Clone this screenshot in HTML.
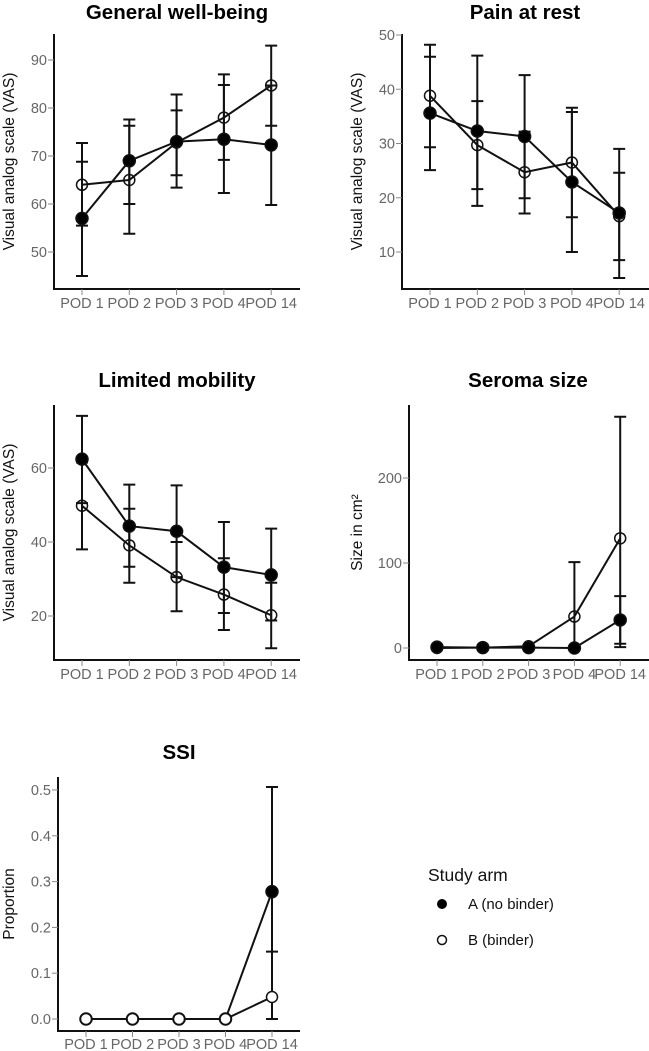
<!DOCTYPE html>
<html><head><meta charset="utf-8"><style>
html,body{margin:0;padding:0;background:#fff}
svg{display:block}
text{font-family:"Liberation Sans",Arial,sans-serif}
.title{font-weight:bold;font-size:20.5px;fill:#000}
.tick{font-size:14.5px;fill:#666}
.ytitle{font-size:15.5px;fill:#111}
</style></head><body>
<svg id="c" width="649" height="1051" viewBox="0 0 649 1051"></svg>
<script>
const categories=["POD 1","POD 2","POD 3","POD 4","POD 14"];
// General well-being
const gwMeanA=[57,69,73,73.5,72.3], gwLoA=[45,60,63.4,62.3,59.8], gwHiA=[68.8,77.6,82.8,84.8,84.7];
const gwMeanB=[64,65,72.8,78,84.7], gwLoB=[55.5,53.8,66,69.2,76.3], gwHiB=[72.7,76.3,79.5,87,93];
const gwTicks=[50,60,70,80,90];
// Pain at rest
const prMeanA=[35.6,32.3,31.3,22.9,17.2], prLoA=[25.1,18.5,19.9,10,5.2], prHiA=[46,46.2,42.6,35.8,29];
const prMeanB=[38.8,29.7,24.7,26.5,16.6], prLoB=[29.3,21.6,17.1,16.4,8.5], prHiB=[48.2,37.8,32.2,36.6,24.6];
const prTicks=[10,20,30,40,50];
// Limited mobility
const lmMeanA=[62.4,44.3,42.9,33.2,31.1], lmLoA=[50.5,33.3,30.5,20.8,18.8], lmHiA=[74.1,55.5,55.3,45.4,43.6];
const lmMeanB=[49.8,39.1,30.5,25.8,20.2], lmLoB=[38,29,21.3,16.2,11.3], lmHiB=[61.5,49,40,35.6,29];
const lmTicks=[20,40,60];
// Seroma size
const ssMeanA=[1,0.5,0.5,0,33], ssLoA=[0,0,0,0,5], ssHiA=[2,1,1,0,61];
const ssMeanB=[0,0.5,2,37,129], ssLoB=[0,0,0,0,1], ssHiB=[1,1,3,101,272];
const ssTicks=[0,100,200];
// SSI
const siMeanA=[0,0,0,0,0.278], siLoA=[0,0,0,0,0.05], siHiA=[0,0,0,0,0.5065];
const siMeanB=[0,0,0,0,0.048], siLoB=[0,0,0,0,0], siHiB=[0,0,0,0,0.147];
const siTicks=["0.0","0.1","0.2","0.3","0.4","0.5"];

const NS="http://www.w3.org/2000/svg";
const svg=document.getElementById('c');
function mk(tag,attrs,parent,txt){const e=document.createElementNS(NS,tag);for(const k in attrs)e.setAttribute(k,attrs[k]);if(txt!==undefined)e.textContent=txt;(parent||svg).appendChild(e);return e;}

function panel(p){
  const g=mk('g',{});
  
  
  const y=v=>p.y0+(v-p.v0)*(p.y1-p.y0)/(p.v1-p.v0);
  const x=i=>p.xs+i*p.dx;
  const t=mk('text',{x:p.tx,y:p.ty,'text-anchor':'middle',class:'title'},g,p.title);
  
  
  const ax=mk('path',{d:`M${p.ax} ${p.atop}V${p.abot}H${p.aright}`,stroke:'#111','stroke-width':2,fill:'none'},g);
  
  
  p.ticks.forEach(tv=>{
    const yy=y(parseFloat(tv));
    mk('line',{x1:p.ax-6,x2:p.ax,y1:yy,y2:yy,stroke:'#888','stroke-width':1},g);
    const tl=mk('text',{x:p.ax-7,y:yy+5,'text-anchor':'end',class:'tick'},g,tv);
    
    
  });
  categories.forEach((c,i)=>{
    mk('line',{x1:x(i),x2:x(i),y1:p.abot,y2:p.abot+6,stroke:'#888','stroke-width':1},g);
    const cl=mk('text',{x:x(i),y:p.xly,'text-anchor':'middle',class:'tick'},g,c);
    
    
  });
  const yt=mk('text',{x:0,y:0,'text-anchor':'middle',class:'ytitle',transform:`translate(${p.ytx},${(p.atop+p.abot)/2}) rotate(-90)`},g,p.ytitle);
  
  
  [[p.mA,p.lA,p.hA,'a'],[p.mB,p.lB,p.hB,'b']].forEach(([m,l,h,s])=>{
    m.forEach((v,i)=>{
      if(h[i]-l[i]===0)return;
      const eb=mk('path',{d:`M${x(i)} ${y(l[i])}V${y(h[i])}M${x(i)-6} ${y(l[i])}H${x(i)+6}M${x(i)-6} ${y(h[i])}H${x(i)+6}`,stroke:'#111','stroke-width':2,fill:'none'},g);
      
      
    });
  });
  [[p.mA,'a'],[p.mB,'b']].forEach(([m,s])=>{
    const ln=mk('polyline',{points:m.map((v,i)=>x(i)+','+y(v)).join(' '),stroke:'#111','stroke-width':2,fill:'none'},g);
    
    
  });
  const order=p.bOnTop?[[p.mA,'a'],[p.mB,'b']]:[[p.mB,'b'],[p.mA,'a']];
  order.forEach(([m,s])=>{
    m.forEach((v,i)=>{
      const c=mk('circle',{cx:x(i),cy:y(v),r:s==='a'?6:5.5,fill:s==='a'?'#000':(p.bOnTop?'#fff':'none'),stroke:'#111','stroke-width':1.5},g);
      
      
    });
  });
}
panel({name:'general-well-being-chart',title:'General well-being',tx:177,ty:19,ax:54,atop:34,abot:289,aright:300,xs:82,dx:47.3,xly:308,v0:90,v1:50,y0:60,y1:252,ticks:gwTicks,ytx:14,ytitle:'Visual analog scale (VAS)',mA:gwMeanA,lA:gwLoA,hA:gwHiA,mB:gwMeanB,lB:gwLoB,hB:gwHiB});
panel({name:'pain-at-rest-chart',title:'Pain at rest',tx:525,ty:19,ax:402,atop:34,abot:289,aright:649,xs:430,dx:47.3,xly:308,v0:50,v1:10,y0:35,y1:252,ticks:prTicks,ytx:362,ytitle:'Visual analog scale (VAS)',mA:prMeanA,lA:prLoA,hA:prHiA,mB:prMeanB,lB:prLoB,hB:prHiB});
panel({name:'limited-mobility-chart',title:'Limited mobility',tx:177,ty:387,ax:54,atop:405,abot:660,aright:300,xs:82,dx:47.3,xly:679,v0:60,v1:20,y0:468,y1:616,ticks:lmTicks,ytx:14,ytitle:'Visual analog scale (VAS)',mA:lmMeanA,lA:lmLoA,hA:lmHiA,mB:lmMeanB,lB:lmLoB,hB:lmHiB});
panel({name:'seroma-size-chart',title:'Seroma size',tx:528,ty:387,ax:409,atop:405,abot:660,aright:649,xs:437,dx:45.8,xly:679,v0:200,v1:0,y0:478,y1:648,ticks:ssTicks,ytx:362,ytitle:'Size in cm²',mA:ssMeanA,lA:ssLoA,hA:ssHiA,mB:ssMeanB,lB:ssLoB,hB:ssHiB});
panel({name:'ssi-chart',title:'SSI',tx:179,ty:759,ax:58,atop:777,abot:1031,aright:300,xs:86,dx:46.5,xly:1049,v0:0.5,v1:0,y0:790,y1:1019,ticks:siTicks,ytx:14,ytitle:'Proportion',bOnTop:true,mA:siMeanA,lA:siLoA,hA:siHiA,mB:siMeanB,lB:siLoB,hB:siHiB});
</script>
<svg style="position:absolute;left:0;top:0" width="649" height="1051">
<text x="428" y="881" style="font-size:17.5px;fill:#111">Study arm</text>
<g><circle cx="442" cy="904" r="5" fill="#000"/><text x="468" y="909" style="font-size:15px;fill:#111">A (no binder)</text></g>
<g><circle cx="442" cy="940" r="4.5" fill="none" stroke="#111" stroke-width="1.5"/><text x="468" y="945" style="font-size:15px;fill:#111">B (binder)</text></g>
</svg>
</body></html>
